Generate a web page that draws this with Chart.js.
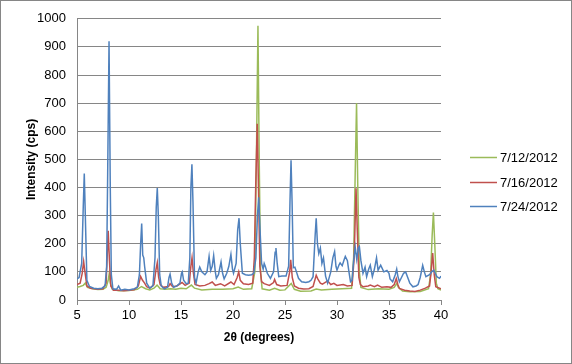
<!DOCTYPE html>
<html>
<head>
<meta charset="utf-8">
<script src="https://cdn.jsdelivr.net/npm/chart.js@4/dist/chart.umd.min.js"></script>
<style>
  html, body { margin: 0; padding: 0; background: #fff; }
  #wrap { width: 572px; height: 364px; }
</style>
</head>
<body>
<div id="wrap"><canvas id="xrd" width="572" height="364"></canvas></div>
<script>
// XRD scans (2θ in degrees, intensity in cps)
const seriesLabels = ["7/12/2012", "7/16/2012", "7/24/2012"];
const seriesColors = ["#9BBB59", "#C0504D", "#4F81BD"];

const greenAngle = [5.0, 5.3, 5.6, 5.8, 6.0, 6.5, 7.0, 7.5, 7.8, 8.0, 8.1, 8.2, 8.4, 9.0, 10.0, 10.8, 11.2, 11.6, 12.0, 12.4, 12.7, 13.0, 13.5, 14.0, 14.5, 15.0, 15.5, 16.0, 16.3, 17.0, 18.0, 19.0, 20.0, 20.5, 21.0, 21.8, 22.1, 22.25, 22.4, 22.52, 22.65, 22.8, 23.5, 24.0, 24.5, 25.0, 25.6, 25.9, 26.5, 27.5, 28.0, 28.5, 29.5, 30.5, 31.4, 31.6, 31.75, 31.88, 32.0, 32.15, 32.3, 33.0, 34.0, 35.0, 35.5, 35.75, 35.9, 36.3, 37.0, 38.0, 38.8, 39.0, 39.15, 39.27, 39.4, 39.55, 39.7, 40.0];
const greenCps = [45, 48, 52, 60, 45, 40, 37, 38, 45, 70, 94, 60, 38, 33, 34, 38, 48, 40, 36, 42, 53, 40, 38, 40, 38, 42, 40, 53, 42, 36, 38, 38, 40, 46, 38, 40, 100, 500, 975, 500, 100, 40, 35, 42, 35, 36, 59, 38, 31, 32, 39, 36, 38, 40, 42, 150, 450, 700, 400, 100, 45, 37, 40, 38, 45, 59, 45, 32, 29, 30, 40, 90, 230, 311, 200, 60, 40, 35];

const redAngle = [5.0, 5.3, 5.5, 5.64, 5.8, 5.95, 6.3, 7.0, 7.5, 7.8, 7.9, 8.0, 8.12, 8.25, 8.5, 9.0, 9.5, 10.0, 10.5, 10.9, 11.12, 11.3, 11.5, 11.7, 12.0, 12.4, 12.6, 12.72, 12.85, 13.0, 13.3, 13.8, 13.95, 14.2, 14.6, 15.1, 15.4, 15.8, 15.95, 16.06, 16.18, 16.35, 16.8, 17.3, 17.7, 18.0, 18.3, 18.8, 19.2, 19.8, 20.1, 20.4, 20.55, 20.7, 21.0, 21.5, 21.9, 22.05, 22.18, 22.33, 22.45, 22.58, 22.75, 23.0, 23.5, 23.9, 24.0, 24.2, 24.6, 25.2, 25.45, 25.55, 25.7, 25.9, 26.3, 26.8, 27.3, 27.7, 28.0, 28.15, 28.4, 28.6, 29.1, 29.4, 29.7, 30.0, 30.6, 31.0, 31.45, 31.65, 31.83, 31.95, 32.1, 32.25, 32.5, 33.0, 33.2, 33.6, 33.9, 34.3, 34.8, 35.2, 35.5, 35.7, 35.85, 36.0, 36.5, 37.0, 37.5, 38.0, 38.5, 38.9, 39.05, 39.2, 39.35, 39.5, 40.0];
const redCps = [55, 60, 95, 137, 90, 50, 42, 38, 40, 60, 150, 246, 140, 50, 35, 35, 33, 35, 36, 50, 84, 70, 60, 47, 42, 55, 110, 133, 80, 55, 45, 48, 58, 47, 50, 62, 52, 60, 120, 150, 100, 55, 50, 52, 58, 64, 52, 58, 50, 64, 55, 80, 100, 70, 58, 55, 60, 150, 400, 627, 400, 120, 65, 58, 52, 62, 73, 55, 50, 52, 100, 143, 80, 50, 42, 39, 40, 48, 88, 75, 60, 56, 68, 55, 59, 52, 55, 50, 52, 150, 397, 250, 80, 55, 47, 50, 53, 47, 53, 45, 47, 45, 55, 76, 55, 41, 35, 32, 30, 35, 42, 50, 100, 167, 90, 47, 40];

const blueAngle = [5.0, 5.2, 5.45, 5.6, 5.7, 5.8, 5.95, 6.2, 6.6, 7.0, 7.4, 7.7, 7.85, 7.95, 8.08, 8.2, 8.3, 8.45, 8.8, 9.0, 9.2, 9.6, 10.0, 10.5, 10.8, 11.0, 11.12, 11.22, 11.32, 11.42, 11.5, 11.7, 12.0, 12.3, 12.5, 12.62, 12.72, 12.82, 12.95, 13.1, 13.4, 13.7, 13.85, 13.95, 14.1, 14.3, 14.6, 14.9, 15.05, 15.12, 15.25, 15.5, 15.7, 15.85, 15.95, 16.05, 16.15, 16.3, 16.45, 16.65, 16.8, 17.0, 17.3, 17.5, 17.7, 17.85, 18.0, 18.14, 18.3, 18.4, 18.6, 18.85, 19.0, 19.15, 19.4, 19.6, 19.8, 19.95, 20.05, 20.3, 20.45, 20.58, 20.7, 20.9, 21.2, 21.5, 21.8, 22.0, 22.2, 22.35, 22.47, 22.6, 22.75, 22.9, 23.0, 23.1, 23.3, 23.6, 23.9, 24.05, 24.13, 24.25, 24.4, 24.7, 25.1, 25.35, 25.48, 25.58, 25.68, 25.8, 25.95, 26.1, 26.3, 26.6, 27.0, 27.3, 27.5, 27.7, 27.9, 28.0, 28.12, 28.25, 28.4, 28.55, 28.7, 28.9, 29.1, 29.4, 29.6, 29.77, 29.9, 30.0, 30.2, 30.3, 30.5, 30.7, 30.8, 31.0, 31.15, 31.3, 31.45, 31.6, 31.75, 31.9, 32.05, 32.15, 32.3, 32.5, 32.7, 32.85, 33.05, 33.2, 33.4, 33.6, 33.8, 33.95, 34.2, 34.5, 34.8, 35.0, 35.1, 35.35, 35.6, 35.74, 35.85, 36.0, 36.2, 36.4, 36.6, 36.8, 37.0, 37.3, 37.6, 37.8, 38.0, 38.24, 38.4, 38.55, 38.9, 39.1, 39.3, 39.45, 39.6, 39.85, 40.0];
const blueCps = [75, 80, 130, 330, 450, 300, 70, 48, 42, 40, 42, 50, 120, 450, 920, 400, 90, 40, 38, 50, 35, 38, 36, 40, 45, 90, 200, 272, 160, 150, 120, 60, 42, 50, 150, 330, 398, 300, 90, 50, 40, 45, 80, 92, 60, 45, 50, 60, 95, 100, 70, 58, 60, 150, 400, 483, 350, 80, 60, 100, 117, 100, 90, 100, 155, 105, 120, 158, 100, 77, 90, 135, 95, 75, 95, 120, 162, 110, 95, 130, 250, 291, 200, 95, 90, 88, 90, 95, 150, 300, 365, 250, 130, 110, 130, 120, 95, 77, 100, 170, 185, 130, 83, 85, 85, 120, 350, 497, 350, 115, 117, 100, 77, 65, 62, 65, 70, 83, 230, 291, 200, 165, 185, 130, 150, 85, 60, 100, 150, 172, 120, 106, 125, 132, 122, 145, 155, 140, 100, 65, 70, 140, 188, 145, 185, 190, 140, 95, 117, 83, 110, 124, 83, 110, 150, 106, 124, 100, 105, 95, 75, 65, 90, 110, 85, 65, 80, 95, 100, 80, 60, 47, 50, 55, 80, 123, 100, 83, 90, 100, 106, 95, 83, 77, 85];

const xTicks = [5, 10, 15, 20, 25, 30, 35, 40];
const yTicks = [0, 100, 200, 300, 400, 500, 600, 700, 800, 900, 1000];

const GRID = "#868686";
const FONT = "'Liberation Sans', Arial, sans-serif";

function pts(xs, ys) { return xs.map((x, i) => ({ x, y: ys[i] })); }

const excelFrame = {
  id: "excelFrame",
  beforeDraw(chart) {
    const ctx = chart.ctx;
    ctx.save();
    ctx.fillStyle = "#fff";
    ctx.fillRect(0, 0, chart.width, chart.height);
    ctx.restore();
  },
  afterDraw(chart) {
    const ctx = chart.ctx;
    ctx.save();
    ctx.strokeStyle = GRID;
    ctx.lineWidth = 1;
    ctx.strokeRect(0.5, 0.5, chart.width - 1, chart.height - 1);
    // legend, right of the plot
    const rows = [157, 182, 206];
    ctx.font = "13px " + FONT;
    ctx.textBaseline = "middle";
    ctx.fillStyle = "#000";
    seriesLabels.forEach((lab, i) => {
      ctx.strokeStyle = seriesColors[i];
      ctx.lineWidth = 1.5;
      ctx.beginPath();
      ctx.moveTo(470, rows[i] + 0.5);
      ctx.lineTo(497, rows[i] + 0.5);
      ctx.stroke();
      ctx.fillText(lab, 500, rows[i] + 1);
    });
    ctx.restore();
  }
};

const series = [pts(greenAngle, greenCps), pts(redAngle, redCps), pts(blueAngle, blueCps)];

new Chart(document.getElementById("xrd"), {
  type: "line",
  data: {
    datasets: series.map((d, i) => ({
      label: seriesLabels[i], data: d, borderColor: seriesColors[i],
      borderWidth: 1.5, pointRadius: 0, tension: 0, fill: false, order: 2 - i,
    })),
  },
  options: {
    responsive: false, animation: false, events: [],
    layout: { padding: { left: 0, top: 16, right: 131, bottom: 0 } },
    plugins: { legend: { display: false }, tooltip: { enabled: false } },
    scales: {
      x: {
        type: "linear", min: 5, max: 40,
        afterBuildTicks: s => { s.ticks = xTicks.map(v => ({ value: v })); },
        afterFit: s => { s.height = 64; },
        grid: { drawOnChartArea: false, drawTicks: true, tickLength: 5, color: GRID },
        border: { display: true, color: GRID },
        ticks: { color: "#000", padding: 3, maxRotation: 0, font: { family: FONT, size: 13 }, callback: v => String(v) },
        title: { display: true, text: "2θ (degrees)", color: "#000", padding: { top: 0, bottom: 19 }, font: { family: FONT, size: 12, weight: "bold" } },
      },
      y: {
        min: 0, max: 1000,
        afterBuildTicks: s => { s.ticks = yTicks.map(v => ({ value: v })); },
        afterFit: s => { s.width = 77; },
        grid: { drawTicks: false, color: GRID },
        border: { display: true, color: GRID },
        ticks: { color: "#000", padding: 11, font: { family: FONT, size: 13 }, callback: v => String(v) },
        title: { display: true, text: "Intensity (cps)", color: "#000", padding: { top: 24, bottom: 0 }, font: { family: FONT, size: 12, weight: "bold" } },
      },
    },
  },
  plugins: [excelFrame],
});
</script>
</body>
</html>
